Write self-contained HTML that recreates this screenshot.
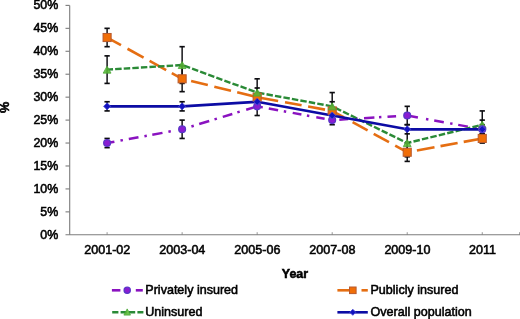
<!DOCTYPE html><html><head><meta charset="utf-8"><title>chart</title><style>html,body{margin:0;padding:0;background:#fff}svg{display:block;will-change:transform}text{font-family:"Liberation Sans",sans-serif;fill:#000;stroke:#000;stroke-width:0.55px}</style></head><body>
<svg width="520" height="319" viewBox="0 0 520 319">
<g opacity="0.999">
<g stroke="#7c7c7c" stroke-width="1.1" fill="none">
<line x1="69.7" y1="5.400000000000006" x2="69.7" y2="234.8"/>
<line x1="65.5" y1="234.8" x2="520" y2="234.8"/>
<line x1="65.5" y1="211.86" x2="69.7" y2="211.86"/>
<line x1="65.5" y1="188.92" x2="69.7" y2="188.92"/>
<line x1="65.5" y1="165.98" x2="69.7" y2="165.98"/>
<line x1="65.5" y1="143.04" x2="69.7" y2="143.04"/>
<line x1="65.5" y1="120.10" x2="69.7" y2="120.10"/>
<line x1="65.5" y1="97.16" x2="69.7" y2="97.16"/>
<line x1="65.5" y1="74.22" x2="69.7" y2="74.22"/>
<line x1="65.5" y1="51.28" x2="69.7" y2="51.28"/>
<line x1="65.5" y1="28.34" x2="69.7" y2="28.34"/>
<line x1="65.5" y1="5.40" x2="69.7" y2="5.40"/>
<line x1="107.10" y1="232.20000000000002" x2="107.10" y2="234.8" stroke-width="0.8"/>
<line x1="182.13" y1="232.20000000000002" x2="182.13" y2="234.8" stroke-width="0.8"/>
<line x1="257.16" y1="232.20000000000002" x2="257.16" y2="234.8" stroke-width="0.8"/>
<line x1="332.19" y1="232.20000000000002" x2="332.19" y2="234.8" stroke-width="0.8"/>
<line x1="407.22" y1="232.20000000000002" x2="407.22" y2="234.8" stroke-width="0.8"/>
<line x1="482.25" y1="232.20000000000002" x2="482.25" y2="234.8" stroke-width="0.8"/>
<line x1="519.6" y1="232.20000000000002" x2="519.6" y2="234.8" stroke-width="0.8"/>
</g>
<text x="58.2" y="238.80" font-size="12.4" text-anchor="end">0%</text>
<text x="58.2" y="215.86" font-size="12.4" text-anchor="end">5%</text>
<text x="58.2" y="192.92" font-size="12.4" text-anchor="end">10%</text>
<text x="58.2" y="169.98" font-size="12.4" text-anchor="end">15%</text>
<text x="58.2" y="147.04" font-size="12.4" text-anchor="end">20%</text>
<text x="58.2" y="124.10" font-size="12.4" text-anchor="end">25%</text>
<text x="58.2" y="101.16" font-size="12.4" text-anchor="end">30%</text>
<text x="58.2" y="78.22" font-size="12.4" text-anchor="end">35%</text>
<text x="58.2" y="55.28" font-size="12.4" text-anchor="end">40%</text>
<text x="58.2" y="32.34" font-size="12.4" text-anchor="end">45%</text>
<text x="58.2" y="9.40" font-size="12.4" text-anchor="end">50%</text>
<text x="107.30" y="254.2" font-size="12.55" text-anchor="middle">2001-02</text>
<text x="182.33" y="254.2" font-size="12.55" text-anchor="middle">2003-04</text>
<text x="257.36" y="254.2" font-size="12.55" text-anchor="middle">2005-06</text>
<text x="332.39" y="254.2" font-size="12.55" text-anchor="middle">2007-08</text>
<text x="407.42" y="254.2" font-size="12.55" text-anchor="middle">2009-10</text>
<text x="482.45" y="254.2" font-size="12.55" text-anchor="middle">2011</text>
<text x="294.9" y="278.4" font-size="12.4" font-weight="bold" text-anchor="middle">Year</text>
<text transform="translate(9.3,107.3) rotate(-90)" font-size="12.6" font-weight="bold" text-anchor="middle">%</text>
<g stroke="#8A12C0" stroke-width="2.5" fill="none" stroke-linecap="butt">
<line x1="107.10" y1="143.04" x2="114.40" y2="141.70"/>
<line x1="120.50" y1="140.58" x2="122.90" y2="140.14"/>
<line x1="128.80" y1="139.06" x2="138.50" y2="137.28"/>
<line x1="144.40" y1="136.20" x2="146.80" y2="135.76"/>
<line x1="152.30" y1="134.75" x2="162.50" y2="132.88"/>
<line x1="168.40" y1="131.79" x2="170.80" y2="131.35"/>
<line x1="191.40" y1="126.44" x2="193.80" y2="125.71"/>
<line x1="199.20" y1="124.06" x2="209.20" y2="121.00"/>
<line x1="214.50" y1="119.38" x2="216.90" y2="118.65"/>
<line x1="222.80" y1="116.84" x2="232.30" y2="113.94"/>
<line x1="237.30" y1="112.41" x2="239.70" y2="111.67"/>
<line x1="246.20" y1="109.69" x2="257.10" y2="106.35"/>
<line x1="260.40" y1="106.93" x2="262.80" y2="107.37"/>
<line x1="268.80" y1="108.47" x2="278.10" y2="110.18"/>
<line x1="283.80" y1="111.22" x2="286.20" y2="111.66"/>
<line x1="292.70" y1="112.86" x2="301.40" y2="114.45"/>
<line x1="306.90" y1="115.46" x2="309.30" y2="115.90"/>
<line x1="316.30" y1="117.19" x2="324.60" y2="118.71"/>
<line x1="332.19" y1="120.10" x2="334.00" y2="119.99"/>
<line x1="339.30" y1="119.67" x2="348.20" y2="119.12"/>
<line x1="355.20" y1="118.69" x2="357.60" y2="118.55"/>
<line x1="364.00" y1="118.15" x2="374.40" y2="117.52"/>
<line x1="379.00" y1="117.24" x2="381.40" y2="117.09"/>
<line x1="387.50" y1="116.72" x2="396.10" y2="116.19"/>
<line x1="407.22" y1="115.51" x2="417.90" y2="117.47"/>
<line x1="426.00" y1="118.96" x2="428.40" y2="119.40"/>
<line x1="434.20" y1="120.46" x2="443.80" y2="122.22"/>
<line x1="450.10" y1="123.38" x2="452.50" y2="123.82"/>
<line x1="458.20" y1="124.86" x2="467.90" y2="126.64"/>
<line x1="474.20" y1="127.80" x2="476.60" y2="128.24"/>
</g>
<g stroke="#E56E12" stroke-width="2.6" fill="none" stroke-linecap="butt">
<line x1="107.10" y1="37.52" x2="121.00" y2="45.17"/>
<line x1="127.50" y1="48.74" x2="143.60" y2="57.60"/>
<line x1="149.60" y1="60.91" x2="166.20" y2="70.04"/>
<line x1="171.80" y1="73.12" x2="182.10" y2="78.79"/>
<line x1="182.13" y1="78.81" x2="185.00" y2="79.51"/>
<line x1="191.10" y1="81.00" x2="207.80" y2="85.09"/>
<line x1="214.30" y1="86.68" x2="231.00" y2="90.76"/>
<line x1="237.20" y1="92.28" x2="257.10" y2="97.15"/>
<line x1="257.16" y1="97.16" x2="278.10" y2="101.00"/>
<line x1="285.00" y1="102.27" x2="301.60" y2="105.31"/>
<line x1="308.10" y1="106.50" x2="325.00" y2="109.61"/>
<line x1="331.50" y1="110.80" x2="332.10" y2="110.91"/>
<line x1="332.19" y1="110.92" x2="344.00" y2="117.42"/>
<line x1="352.60" y1="122.16" x2="367.60" y2="130.41"/>
<line x1="373.70" y1="133.77" x2="389.00" y2="142.19"/>
<line x1="395.20" y1="145.60" x2="407.10" y2="152.15"/>
<line x1="407.22" y1="152.22" x2="410.00" y2="151.71"/>
<line x1="416.90" y1="150.44" x2="434.50" y2="147.21"/>
<line x1="440.50" y1="146.11" x2="457.60" y2="142.97"/>
<line x1="463.70" y1="141.85" x2="482.25" y2="138.45"/>
</g>
<g stroke="#2A8A36" stroke-width="2.4" fill="none" stroke-linecap="butt">
<line x1="107.10" y1="69.63" x2="113.02" y2="69.27"/>
<line x1="115.15" y1="69.14" x2="121.60" y2="68.75"/>
<line x1="123.73" y1="68.62" x2="130.18" y2="68.22"/>
<line x1="132.31" y1="68.09" x2="138.76" y2="67.70"/>
<line x1="140.89" y1="67.57" x2="147.34" y2="67.17"/>
<line x1="149.47" y1="67.04" x2="155.92" y2="66.65"/>
<line x1="158.05" y1="66.52" x2="164.50" y2="66.12"/>
<line x1="166.63" y1="65.99" x2="173.08" y2="65.60"/>
<line x1="175.21" y1="65.47" x2="181.66" y2="65.07"/>
<line x1="184.03" y1="65.74" x2="190.08" y2="67.96"/>
<line x1="192.10" y1="68.70" x2="198.15" y2="70.92"/>
<line x1="200.17" y1="71.66" x2="206.22" y2="73.88"/>
<line x1="208.24" y1="74.62" x2="214.29" y2="76.84"/>
<line x1="216.31" y1="77.58" x2="222.36" y2="79.80"/>
<line x1="224.38" y1="80.55" x2="230.43" y2="82.76"/>
<line x1="232.45" y1="83.51" x2="238.50" y2="85.73"/>
<line x1="240.52" y1="86.47" x2="246.57" y2="88.69"/>
<line x1="248.59" y1="89.43" x2="254.64" y2="91.65"/>
<line x1="256.66" y1="92.39" x2="257.16" y2="92.57"/>
<line x1="258.04" y1="92.73" x2="264.39" y2="93.90"/>
<line x1="266.50" y1="94.29" x2="272.85" y2="95.45"/>
<line x1="274.96" y1="95.84" x2="281.31" y2="97.00"/>
<line x1="283.42" y1="97.39" x2="289.77" y2="98.55"/>
<line x1="291.88" y1="98.94" x2="298.23" y2="100.11"/>
<line x1="300.34" y1="100.49" x2="306.69" y2="101.66"/>
<line x1="308.80" y1="102.05" x2="315.15" y2="103.21"/>
<line x1="317.26" y1="103.60" x2="323.61" y2="104.76"/>
<line x1="325.72" y1="105.15" x2="332.07" y2="106.31"/>
<line x1="332.19" y1="106.34" x2="333.41" y2="106.93"/>
<line x1="335.34" y1="107.88" x2="341.14" y2="110.71"/>
<line x1="343.07" y1="111.66" x2="348.87" y2="114.50"/>
<line x1="350.80" y1="115.44" x2="356.60" y2="118.28"/>
<line x1="358.53" y1="119.22" x2="364.33" y2="122.06"/>
<line x1="366.26" y1="123.00" x2="372.06" y2="125.84"/>
<line x1="373.99" y1="126.78" x2="379.79" y2="129.62"/>
<line x1="381.72" y1="130.57" x2="387.52" y2="133.40"/>
<line x1="389.45" y1="134.35" x2="395.25" y2="137.18"/>
<line x1="397.18" y1="138.13" x2="402.98" y2="140.97"/>
<line x1="404.91" y1="141.91" x2="407.22" y2="143.04"/>
<line x1="407.22" y1="143.04" x2="411.38" y2="142.02"/>
<line x1="413.50" y1="141.50" x2="419.80" y2="139.96"/>
<line x1="421.92" y1="139.44" x2="428.22" y2="137.90"/>
<line x1="430.34" y1="137.38" x2="436.64" y2="135.84"/>
<line x1="438.76" y1="135.33" x2="445.06" y2="133.78"/>
<line x1="447.18" y1="133.27" x2="453.48" y2="131.73"/>
<line x1="455.60" y1="131.21" x2="461.90" y2="129.67"/>
<line x1="464.02" y1="129.15" x2="470.32" y2="127.61"/>
<line x1="472.44" y1="127.09" x2="478.74" y2="125.55"/>
<line x1="480.86" y1="125.03" x2="482.25" y2="124.69"/>
</g>
<polyline points="107.10,106.34 182.13,106.34 257.16,101.75 332.19,115.51 407.22,129.28 482.25,129.28" fill="none" stroke="#0C0CA4" stroke-width="2.7" stroke-linejoin="round"/>
<g stroke="#0c0c10" stroke-width="1.45" fill="none">
<line x1="107.10" y1="138.45" x2="107.10" y2="147.63"/>
<line x1="104.45" y1="138.45" x2="109.75" y2="138.45" stroke-width="1.65"/>
<line x1="104.45" y1="147.63" x2="109.75" y2="147.63" stroke-width="1.65"/>
<line x1="182.13" y1="120.10" x2="182.13" y2="138.45"/>
<line x1="179.48" y1="120.10" x2="184.78" y2="120.10" stroke-width="1.65"/>
<line x1="179.48" y1="138.45" x2="184.78" y2="138.45" stroke-width="1.65"/>
<line x1="257.16" y1="97.16" x2="257.16" y2="115.51"/>
<line x1="254.51" y1="97.16" x2="259.81" y2="97.16" stroke-width="1.65"/>
<line x1="254.51" y1="115.51" x2="259.81" y2="115.51" stroke-width="1.65"/>
<line x1="332.19" y1="115.51" x2="332.19" y2="124.69"/>
<line x1="329.54" y1="115.51" x2="334.84" y2="115.51" stroke-width="1.65"/>
<line x1="329.54" y1="124.69" x2="334.84" y2="124.69" stroke-width="1.65"/>
<line x1="407.22" y1="106.34" x2="407.22" y2="124.69"/>
<line x1="404.57" y1="106.34" x2="409.87" y2="106.34" stroke-width="1.65"/>
<line x1="404.57" y1="124.69" x2="409.87" y2="124.69" stroke-width="1.65"/>
<line x1="482.25" y1="120.10" x2="482.25" y2="138.45"/>
<line x1="479.60" y1="120.10" x2="484.90" y2="120.10" stroke-width="1.65"/>
<line x1="479.60" y1="138.45" x2="484.90" y2="138.45" stroke-width="1.65"/>
</g>
<g stroke="#0c0c10" stroke-width="1.45" fill="none">
<line x1="107.10" y1="28.34" x2="107.10" y2="46.69"/>
<line x1="104.45" y1="28.34" x2="109.75" y2="28.34" stroke-width="1.65"/>
<line x1="104.45" y1="46.69" x2="109.75" y2="46.69" stroke-width="1.65"/>
<line x1="182.13" y1="65.96" x2="182.13" y2="91.65"/>
<line x1="179.48" y1="65.96" x2="184.78" y2="65.96" stroke-width="1.65"/>
<line x1="179.48" y1="91.65" x2="184.78" y2="91.65" stroke-width="1.65"/>
<line x1="257.16" y1="87.98" x2="257.16" y2="106.34"/>
<line x1="254.51" y1="87.98" x2="259.81" y2="87.98" stroke-width="1.65"/>
<line x1="254.51" y1="106.34" x2="259.81" y2="106.34" stroke-width="1.65"/>
<line x1="332.19" y1="101.75" x2="332.19" y2="120.10"/>
<line x1="329.54" y1="101.75" x2="334.84" y2="101.75" stroke-width="1.65"/>
<line x1="329.54" y1="120.10" x2="334.84" y2="120.10" stroke-width="1.65"/>
<line x1="407.22" y1="143.04" x2="407.22" y2="161.39"/>
<line x1="404.57" y1="143.04" x2="409.87" y2="143.04" stroke-width="1.65"/>
<line x1="404.57" y1="161.39" x2="409.87" y2="161.39" stroke-width="1.65"/>
<line x1="482.25" y1="133.86" x2="482.25" y2="143.04"/>
<line x1="479.60" y1="133.86" x2="484.90" y2="133.86" stroke-width="1.65"/>
<line x1="479.60" y1="143.04" x2="484.90" y2="143.04" stroke-width="1.65"/>
</g>
<g stroke="#0c0c10" stroke-width="1.45" fill="none">
<line x1="107.10" y1="55.87" x2="107.10" y2="83.40"/>
<line x1="104.45" y1="55.87" x2="109.75" y2="55.87" stroke-width="1.65"/>
<line x1="104.45" y1="83.40" x2="109.75" y2="83.40" stroke-width="1.65"/>
<line x1="182.13" y1="46.69" x2="182.13" y2="83.40"/>
<line x1="179.48" y1="46.69" x2="184.78" y2="46.69" stroke-width="1.65"/>
<line x1="179.48" y1="83.40" x2="184.78" y2="83.40" stroke-width="1.65"/>
<line x1="257.16" y1="78.81" x2="257.16" y2="106.34"/>
<line x1="254.51" y1="78.81" x2="259.81" y2="78.81" stroke-width="1.65"/>
<line x1="254.51" y1="106.34" x2="259.81" y2="106.34" stroke-width="1.65"/>
<line x1="332.19" y1="92.57" x2="332.19" y2="120.10"/>
<line x1="329.54" y1="92.57" x2="334.84" y2="92.57" stroke-width="1.65"/>
<line x1="329.54" y1="120.10" x2="334.84" y2="120.10" stroke-width="1.65"/>
<line x1="407.22" y1="129.28" x2="407.22" y2="156.80"/>
<line x1="404.57" y1="129.28" x2="409.87" y2="129.28" stroke-width="1.65"/>
<line x1="404.57" y1="156.80" x2="409.87" y2="156.80" stroke-width="1.65"/>
<line x1="482.25" y1="110.92" x2="482.25" y2="138.45"/>
<line x1="479.60" y1="110.92" x2="484.90" y2="110.92" stroke-width="1.65"/>
<line x1="479.60" y1="138.45" x2="484.90" y2="138.45" stroke-width="1.65"/>
</g>
<g stroke="#0c0c10" stroke-width="1.45" fill="none">
<line x1="107.10" y1="101.75" x2="107.10" y2="110.92"/>
<line x1="104.45" y1="101.75" x2="109.75" y2="101.75" stroke-width="1.65"/>
<line x1="104.45" y1="110.92" x2="109.75" y2="110.92" stroke-width="1.65"/>
<line x1="182.13" y1="101.75" x2="182.13" y2="110.92"/>
<line x1="179.48" y1="101.75" x2="184.78" y2="101.75" stroke-width="1.65"/>
<line x1="179.48" y1="110.92" x2="184.78" y2="110.92" stroke-width="1.65"/>
<line x1="257.16" y1="97.16" x2="257.16" y2="106.34"/>
<line x1="254.51" y1="97.16" x2="259.81" y2="97.16" stroke-width="1.65"/>
<line x1="254.51" y1="106.34" x2="259.81" y2="106.34" stroke-width="1.65"/>
<line x1="332.19" y1="110.92" x2="332.19" y2="120.10"/>
<line x1="329.54" y1="110.92" x2="334.84" y2="110.92" stroke-width="1.65"/>
<line x1="329.54" y1="120.10" x2="334.84" y2="120.10" stroke-width="1.65"/>
<line x1="407.22" y1="124.69" x2="407.22" y2="133.86"/>
<line x1="404.57" y1="124.69" x2="409.87" y2="124.69" stroke-width="1.65"/>
<line x1="404.57" y1="133.86" x2="409.87" y2="133.86" stroke-width="1.65"/>
<line x1="482.25" y1="124.69" x2="482.25" y2="133.86"/>
<line x1="479.60" y1="124.69" x2="484.90" y2="124.69" stroke-width="1.65"/>
<line x1="479.60" y1="133.86" x2="484.90" y2="133.86" stroke-width="1.65"/>
</g>
<rect x="103.05" y="33.47" width="8.1" height="8.1" fill="#F06E08" stroke="#B85A2E" stroke-width="1"/>
<rect x="178.08" y="74.76" width="8.1" height="8.1" fill="#F06E08" stroke="#B85A2E" stroke-width="1"/>
<rect x="253.11" y="93.11" width="8.1" height="8.1" fill="#F06E08" stroke="#B85A2E" stroke-width="1"/>
<rect x="328.14" y="106.87" width="8.1" height="8.1" fill="#F06E08" stroke="#B85A2E" stroke-width="1"/>
<rect x="403.17" y="148.17" width="8.1" height="8.1" fill="#F06E08" stroke="#B85A2E" stroke-width="1"/>
<rect x="478.20" y="134.40" width="8.1" height="8.1" fill="#F06E08" stroke="#B85A2E" stroke-width="1"/>
<path d="M107.10 66.13 L111.00 73.13 L103.20 73.13 Z" fill="#58B835" fill-opacity="0.88" stroke="#4CA838" stroke-opacity="0.9" stroke-width="0.9" stroke-linejoin="miter"/>
<path d="M182.13 61.54 L186.03 68.54 L178.23 68.54 Z" fill="#58B835" fill-opacity="0.88" stroke="#4CA838" stroke-opacity="0.9" stroke-width="0.9" stroke-linejoin="miter"/>
<path d="M257.16 89.07 L261.06 96.07 L253.26 96.07 Z" fill="#58B835" fill-opacity="0.88" stroke="#4CA838" stroke-opacity="0.9" stroke-width="0.9" stroke-linejoin="miter"/>
<path d="M332.19 102.84 L336.09 109.84 L328.29 109.84 Z" fill="#58B835" fill-opacity="0.88" stroke="#4CA838" stroke-opacity="0.9" stroke-width="0.9" stroke-linejoin="miter"/>
<path d="M407.22 139.54 L411.12 146.54 L403.32 146.54 Z" fill="#58B835" fill-opacity="0.88" stroke="#4CA838" stroke-opacity="0.9" stroke-width="0.9" stroke-linejoin="miter"/>
<path d="M482.25 121.19 L486.15 128.19 L478.35 128.19 Z" fill="#58B835" fill-opacity="0.88" stroke="#4CA838" stroke-opacity="0.9" stroke-width="0.9" stroke-linejoin="miter"/>
<circle cx="107.10" cy="143.04" r="3.4" fill="#8A1CD2" stroke="#5A36C8" stroke-width="1.3"/>
<circle cx="182.13" cy="129.28" r="3.4" fill="#8A1CD2" stroke="#5A36C8" stroke-width="1.3"/>
<circle cx="257.16" cy="106.34" r="3.4" fill="#8A1CD2" stroke="#5A36C8" stroke-width="1.3"/>
<circle cx="332.19" cy="120.10" r="3.4" fill="#8A1CD2" stroke="#5A36C8" stroke-width="1.3"/>
<circle cx="407.22" cy="115.51" r="3.4" fill="#8A1CD2" stroke="#5A36C8" stroke-width="1.3"/>
<circle cx="482.25" cy="129.28" r="3.4" fill="#8A1CD2" stroke="#5A36C8" stroke-width="1.3"/>
<path d="M107.10 102.84 L110.60 106.34 L107.10 109.84 L103.60 106.34 Z" fill="#1212BE" stroke="#4A4AD6" stroke-width="0.9"/>
<path d="M182.13 102.84 L185.63 106.34 L182.13 109.84 L178.63 106.34 Z" fill="#1212BE" stroke="#4A4AD6" stroke-width="0.9"/>
<path d="M257.16 98.25 L260.66 101.75 L257.16 105.25 L253.66 101.75 Z" fill="#1212BE" stroke="#4A4AD6" stroke-width="0.9"/>
<path d="M332.19 112.01 L335.69 115.51 L332.19 119.01 L328.69 115.51 Z" fill="#1212BE" stroke="#4A4AD6" stroke-width="0.9"/>
<path d="M407.22 125.78 L410.72 129.28 L407.22 132.78 L403.72 129.28 Z" fill="#1212BE" stroke="#4A4AD6" stroke-width="0.9"/>
<path d="M482.25 125.78 L485.75 129.28 L482.25 132.78 L478.75 129.28 Z" fill="#1212BE" stroke="#4A4AD6" stroke-width="0.9"/>
<g fill="none" stroke-width="2.6">
<line x1="111.9" y1="290.3" x2="120.4" y2="290.3" stroke="#8A12C0"/>
<line x1="135.8" y1="290.3" x2="142.8" y2="290.3" stroke="#8A12C0"/>
<line x1="112.2" y1="312.3" x2="143.4" y2="312.3" stroke="#2A8A36" stroke-dasharray="6.2 2.2"/>
<line x1="337.4" y1="290.3" x2="349.5" y2="290.3" stroke="#E56E12"/>
<line x1="361.5" y1="290.3" x2="367.8" y2="290.3" stroke="#E56E12"/>
<line x1="337.4" y1="312.3" x2="367.8" y2="312.3" stroke="#0C0CA4"/>
</g>
<circle cx="127.20" cy="290.30" r="3.1" fill="#8A1CD2" stroke="#5A36C8" stroke-width="1.3"/>
<path d="M127.20 308.90 L130.50 315.10 L123.90 315.10 Z" fill="#58B835" fill-opacity="0.88" stroke="#4CA838" stroke-opacity="0.9" stroke-width="0.9" stroke-linejoin="miter"/>
<rect x="349.50" y="287.00" width="6.6" height="6.6" fill="#F06E08" stroke="#B85A2E" stroke-width="1"/>
<path d="M352.80 309.30 L355.80 312.30 L352.80 315.30 L349.80 312.30 Z" fill="#1212BE" stroke="#4A4AD6" stroke-width="0.9"/>
<text x="145.3" y="294.4" font-size="12.55">Privately insured</text>
<text x="145.3" y="316.2" font-size="12.55">Uninsured</text>
<text x="370.5" y="294.4" font-size="12.55">Publicly insured</text>
<text x="370.5" y="316.2" font-size="12.55">Overall population</text>
</g></svg></body></html>
